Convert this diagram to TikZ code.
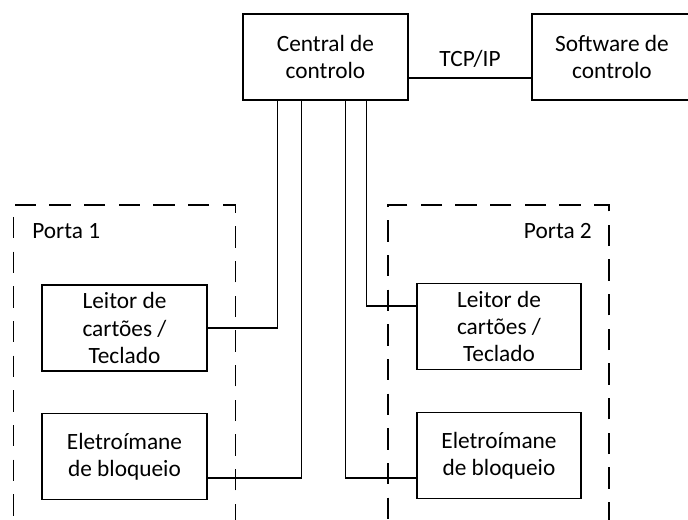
\documentclass[tikz,border=0pt]{standalone}
\usepackage{fontspec}
\setmainfont{Carlito}
\usetikzlibrary{calc}

\begin{document}
\begin{tikzpicture}[x=0.75pt,y=-0.75pt,
  every node/.style={font=\fontsize{17.5}{20.5}\selectfont},
  unit/.style={draw,line width=0.8pt,align=center,inner sep=2pt,
               minimum width=123.75pt,minimum height=64.5pt},
  door/.style={draw,line width=0.8pt,dash pattern=on 16pt off 10pt,
               minimum width=167pt,minimum height=255pt},
  wire/.style={line width=0.8pt}
]
\useasboundingbox (0,0) rectangle (688,520);
\clip (0,0) rectangle (688,520);

% door frames (run off the bottom edge)
\node[door] (p1) at (124.5,375) {};
\node[door,minimum width=165.75pt] (p2) at (498.5,375) {};
\node[anchor=west] (lbl1) at ($(p1.north west)+(15,27)$) {Porta 1};
\node[anchor=east] (lbl2) at ($(p2.north east)+(-13,27)$) {Porta 2};

% controller and software
\node[unit] (ctl) at (325.5,57) {Central de\\controlo};
\node[unit,minimum width=120pt] (sw) at (612,57) {Software de\\controlo};
\draw[wire] ($(ctl.east)+(0,21)$) -- node[above=4pt] (tcp) {TCP/IP}
            ($(sw.west)+(0,21)$);

% door units
\node[unit] (lk1) at (124.5,328)   {Leitor de\\cart\~oes /\\Teclado};
\node[unit] (em1) at (124.5,456.5) {Eletro\'imane\\de bloqueio};
\node[unit,minimum width=123pt] (lk2) at (499,326.5) {Leitor de\\cart\~oes /\\Teclado};
\node[unit,minimum width=123pt] (em2) at (499,455.5) {Eletro\'imane\\de bloqueio};

% wiring from the controller
\draw[wire] ($(ctl.south west)+(35,0)$)  |- (lk1.east);
\draw[wire] ($(ctl.south west)+(59,0)$)  |- ($(em1.east)+(0,21.5)$);
\draw[wire] ($(ctl.south west)+(103,0)$) |- ($(em2.west)+(0,22.5)$);
\draw[wire] ($(ctl.south west)+(124,0)$) |- ($(lk2.west)+(0,-20.5)$);
\end{tikzpicture}
\end{document}
